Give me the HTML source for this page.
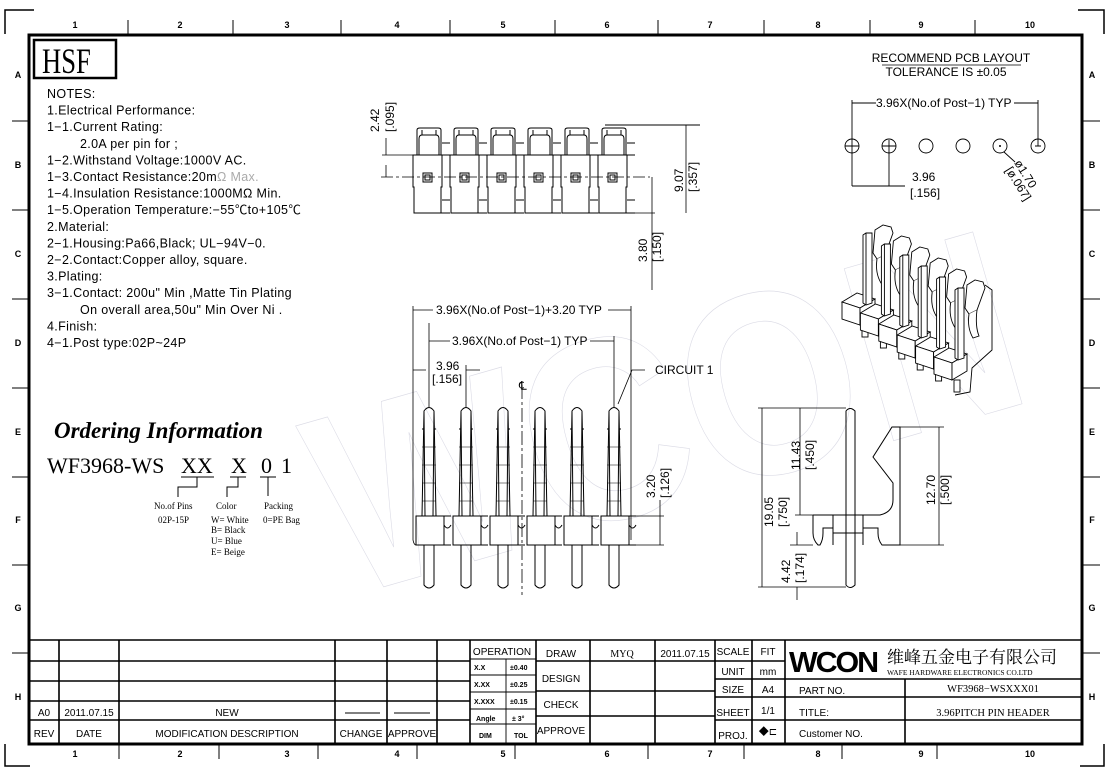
<!DOCTYPE html>
<html><head><meta charset="utf-8"><style>
html,body{margin:0;padding:0;background:#fff}
svg{display:block}
text{font-family:"Liberation Sans","Noto Sans CJK SC",sans-serif;fill:#000}
.s{font-family:"Liberation Serif","Noto Serif CJK SC",serif}
</style></head><body>
<svg width="1112" height="778" viewBox="0 0 1112 778" xmlns="http://www.w3.org/2000/svg">
<defs>
<g id="tu" fill="none" stroke="#000" stroke-width="1">
  <path d="M4,30 V5 Q4,3 7,3 H25 Q28,3 28,5 V30"/>
  <path d="M6,30 V14 Q6,10 9,10 H23 Q26,10 26,14 V30"/>
  <path d="M9,10 L9,5 M23,10 L23,5"/>
  <path d="M0,30 H29 V62 H28 V88 H1 V62 H0 Z"/>
  <rect x="10" y="48" width="9" height="9"/><rect x="12" y="50" width="5" height="5"/>
  <path d="M29,18 H37 M29,30 H37 M29,75 H37 M28,88 H37"/>
</g>
<g id="fp" fill="none" stroke="#000" stroke-width="1">
  <path d="M-5,4 Q0,-3 5,4 L7,109 H-7 Z"/>
  <path d="M-5,4 L-4,109 M5,4 L4,109 M-7,22 H-5 M5,22 H7"/>
  <path d="M-7,40 H7 M-7,58 H7 M-7,76 H7 M-7,94 H7" stroke-width="0.6"/>
  <rect x="-13" y="109" width="28" height="29"/>
  <path d="M15,109 H22 M15,138 H22 M15,118 Q18.5,124 22,118"/>
  <path d="M-5,138 V178 Q0,184 5,178 V138"/>
</g>
<g id="iso" fill="#fff" stroke="#000" stroke-width="0.9">
  <path d="M12,-3 L20,-8 L28,-6 L30,0 L22,22 L14,26 L10,20 Z"/>
  <path d="M14,26 Q12,40 18,50 L24,48 Q20,38 22,22"/>
  <path d="M-21,69 L-6,60 L12,66 L-3,75 Z"/>
  <path d="M-21,69 V86 L-3,92 V75 Z"/>
  <path d="M-3,75 L12,66 V83 L-3,92 Z"/>
  <rect x="-1" y="92" width="6" height="12"/>
  <path d="M0,2 L3,0 L9,0 L9,70 L3,72 L0,70 Z"/><path d="M3,0 V72"/>
</g>
</defs>

<g fill="none" stroke="#000" stroke-width="1.5">
<path d="M5,34 V10 H34"/><path d="M1078,10 H1104 V34"/><path d="M5,744 V766 H30"/><path d="M1080,766 H1104 V744"/>
</g>
<rect x="29" y="35" width="1053" height="709" fill="none" stroke="#000" stroke-width="3"/>
<g stroke="#000" stroke-width="1">
<path d="M128,20 V35 M233,20 V35 M341,20 V35 M450,20 V35 M555,20 V35 M658,20 V35 M764,20 V35 M870,20 V35 M975,20 V35"/>
<path d="M119,744 V759 M219,744 V759 M318,744 V759 M417,744 V759 M515,744 V759 M648,744 V759 M744,744 V759 M842,744 V759 M937,744 V759"/>
<path d="M12,121 H29 M12,210 H29 M12,299 H29 M12,388 H29 M12,477 H29 M12,565 H29 M12,653 H29"/>
<path d="M1082,121 H1100 M1082,210 H1100 M1082,299 H1100 M1082,388 H1100 M1082,477 H1100 M1082,565 H1100 M1082,653 H1100"/>
</g>
<g font-size="9" font-weight="bold" text-anchor="middle">
<text x="75" y="28">1</text><text x="180" y="28">2</text><text x="287" y="28">3</text><text x="397" y="28">4</text><text x="503" y="28">5</text><text x="607" y="28">6</text><text x="710" y="28">7</text><text x="818" y="28">8</text><text x="921" y="28">9</text><text x="1030" y="28">10</text>
<text x="75" y="757">1</text><text x="180" y="757">2</text><text x="287" y="757">3</text><text x="397" y="757">4</text><text x="503" y="757">5</text><text x="607" y="757">6</text><text x="710" y="757">7</text><text x="818" y="757">8</text><text x="921" y="757">9</text><text x="1030" y="757">10</text>
<text x="18" y="78">A</text><text x="18" y="168">B</text><text x="18" y="257">C</text><text x="18" y="346">D</text><text x="18" y="435">E</text><text x="18" y="523">F</text><text x="18" y="611">G</text><text x="18" y="700">H</text>
<text x="1092" y="78">A</text><text x="1092" y="168">B</text><text x="1092" y="257">C</text><text x="1092" y="346">D</text><text x="1092" y="435">E</text><text x="1092" y="523">F</text><text x="1092" y="611">G</text><text x="1092" y="700">H</text>
</g>

<!-- watermark -->
<text x="300" y="520" font-size="260" font-weight="bold" style="fill:none;stroke:#dcdce6;stroke-width:0.7" transform="rotate(-16 600 400)" textLength="720" lengthAdjust="spacingAndGlyphs">WCON</text>

<!-- HSF -->
<rect x="34" y="40" width="82" height="38" fill="none" stroke="#000" stroke-width="2.5"/>
<text x="42" y="73" class="s" font-size="36" transform="translate(42 0) scale(0.74 1) translate(-42 0)">HSF</text>

<g font-size="12.5" letter-spacing="0.35">
<text x="47" y="98">NOTES:</text>
<text x="47" y="114.6">1.Electrical  Performance:</text>
<text x="47" y="131.2">1−1.Current  Rating:</text>
<text x="80" y="147.8">2.0A  per  pin  for  ;</text>
<text x="47" y="164.4">1−2.Withstand  Voltage:1000V  AC.</text>
<text x="47" y="181">1−3.Contact  Resistance:20m<tspan style="fill:#aaa">Ω  Max.</tspan></text>
<text x="47" y="197.6">1−4.Insulation  Resistance:1000MΩ  Min.</text>
<text x="47" y="214.2">1−5.Operation  Temperature:−55℃to+105℃</text>
<text x="47" y="230.8">2.Material:</text>
<text x="47" y="247.4">2−1.Housing:Pa66,Black;  UL−94V−0.</text>
<text x="47" y="264">2−2.Contact:Copper  alloy,  square.</text>
<text x="47" y="280.6">3.Plating:</text>
<text x="47" y="297.2">3−1.Contact:  200u"  Min  ,Matte  Tin  Plating</text>
<text x="80" y="313.8">On  overall  area,50u"  Min  Over  Ni  .</text>
<text x="47" y="330.4">4.Finish:</text>
<text x="47" y="347">4−1.Post  type:02P~24P</text>
</g>

<text x="54" y="438" class="s" font-size="23" font-weight="bold" font-style="italic">Ordering Information</text>
<g font-size="22">
<text x="47" y="473" class="s">WF3968-WS</text>
<text x="181" y="473" class="s">XX</text>
<text x="231" y="473" class="s">X</text>
<text x="261" y="473" class="s">0</text>
<text x="281" y="473" class="s">1</text>
</g>
<g fill="none" stroke="#000" stroke-width="1">
<path d="M181,477 H214 M197,477 V487 H178 V497"/>
<path d="M230,477 H246 M238,477 V487 H227 V497"/>
<path d="M260,477 H276 M268,477 V496"/>
</g>
<g font-size="9">
<text x="154" y="509" class="s">No.of Pins</text><text x="158" y="523" class="s">02P-15P</text>
<text x="216" y="509" class="s">Color</text>
<text x="211" y="523" class="s">W= White</text><text x="211" y="533" class="s">B= Black</text><text x="211" y="544" class="s">U= Blue</text><text x="211" y="555" class="s">E= Beige</text>
<text x="264" y="509" class="s">Packing</text><text x="263" y="523" class="s">0=PE Bag</text>
</g>

<!-- top view -->
<g transform="translate(413,125)">
<use href="#tu" x="0"/><use href="#tu" x="37"/><use href="#tu" x="74"/><use href="#tu" x="111"/><use href="#tu" x="148"/><use href="#tu" x="185"/>
</g>
<path d="M605,125 H700" stroke="#000" fill="none"/>
<g fill="none" stroke="#000" stroke-width="0.8">
<path d="M381,177 H650" stroke-dasharray="12 3 3 3"/>
<path d="M382,155 H413 M386,138 V155 M386,177 V165"/>
<path d="M598,213 H655 M686,125 V213 M652,177 V290"/>
</g>
<g font-size="12">
<text transform="translate(379 132) rotate(-90)">2.42</text>
<text transform="translate(394 132) rotate(-90)">[.095]</text>
<text transform="translate(683 192) rotate(-90)">9.07</text>
<text transform="translate(697 192) rotate(-90)">[.357]</text>
<text transform="translate(647 262) rotate(-90)">3.80</text>
<text transform="translate(661 262) rotate(-90)">[.150]</text>
</g>

<!-- front view -->
<g transform="translate(429,407)">
<use href="#fp" x="0"/><use href="#fp" x="37"/><use href="#fp" x="74"/><use href="#fp" x="111"/><use href="#fp" x="148"/><use href="#fp" x="185"/>
</g>
<g fill="none" stroke="#000" stroke-width="0.8">
<path d="M413,306 V540 Q414,545 416,545 M631,306 V540"/>
<path d="M413,310 H433 M608,310 H631"/>
<path d="M429,323 V407 M614,336 V407 M429,341 H450 M590,341 H614"/>
<path d="M466,365 V407 M413,370 H426 M466,370 H480"/>
<path d="M522,385 V595" stroke-dasharray="14 3 3 3"/>
<path d="M645,370 H632 L618,404"/>
<path d="M631,516 H664 M631,545 H664 M660,500 V545"/>
</g>
<g font-size="12">
<text x="436" y="314">3.96X(No.of  Post−1)+3.20  TYP</text>
<text x="452" y="345">3.96X(No.of  Post−1)  TYP</text>
<text x="436" y="370">3.96</text><text x="432" y="383">[.156]</text>
<text x="519" y="390">℄</text>
<text x="655" y="374">CIRCUIT  1</text>
<text transform="translate(655 498) rotate(-90)">3.20</text>
<text transform="translate(669 498) rotate(-90)">[.126]</text>
</g>

<!-- iso view -->
<g transform="translate(863,233)">
<use href="#iso" x="0" y="0"/><use href="#iso" x="18.4" y="11"/><use href="#iso" x="36.8" y="22"/><use href="#iso" x="55.2" y="33"/><use href="#iso" x="73.6" y="44"/><use href="#iso" x="92" y="55"/>
</g>
<path d="M985,285 L992,290 V350 L972,368 L970,392 L955,395" fill="none" stroke="#000" stroke-width="0.9"/>

<!-- side view -->
<g fill="none" stroke="#000" stroke-width="1">
<path d="M846,411 Q850,406 855,411 V585 Q850,590 846,585 Z"/>
<path d="M813,515 H880 Q893,512 893,500 V483 L873,457 L892,427 H900 V545 H882 Q878,540 878,533 V528 H863 V545 M813,515 V533 Q813,540 818,545 H820 Q823,540 823,533 V528 H833 V545 M833,515 V545 M863,515 V545 M833,533 H863"/>
</g>
<g fill="none" stroke="#000" stroke-width="0.8">
<path d="M758,408 H846 M758,587 H846 M762,408 V587"/>
<path d="M800,408 V515 M795,515 H813"/>
<path d="M790,545 H813 M797,532 V545 M797,587 V600"/>
<path d="M900,427 H944 M900,545 H944 M939,427 V545"/>
</g>
<g font-size="12">
<text transform="translate(773 527) rotate(-90)">19.05</text>
<text transform="translate(787 527) rotate(-90)">[.750]</text>
<text transform="translate(800 470) rotate(-90)">11.43</text>
<text transform="translate(814 470) rotate(-90)">[.450]</text>
<text transform="translate(790 583) rotate(-90)">4.42</text>
<text transform="translate(804 583) rotate(-90)">[.174]</text>
<text transform="translate(935 505) rotate(-90)">12.70</text>
<text transform="translate(949 505) rotate(-90)">[.500]</text>
</g>

<!-- PCB layout -->
<g font-size="12" text-anchor="middle">
<text x="951" y="62">RECOMMEND  PCB  LAYOUT</text>
<text x="946" y="76">TOLERANCE  IS  ±0.05</text>
</g>
<path d="M882,65 H1021" stroke="#000" stroke-width="0.8"/>
<g fill="none" stroke="#000" stroke-width="0.9">
<circle cx="852" cy="146" r="7"/><circle cx="889" cy="146" r="7"/><circle cx="926" cy="146" r="7"/><circle cx="963" cy="146" r="7"/><circle cx="1000" cy="146" r="7"/><circle cx="1038" cy="146" r="7"/>
<path d="M852,100 V186 M845,146 H859 M889,140 V186 M882,146 H896 M1038,100 V146 M1035,146 H1041"/>
<path d="M852,103 H876 M1014,103 H1038 M852,186 H905"/>
<path d="M1004,152 L1015,162"/>
</g>
<circle cx="1000" cy="146" r="1" fill="#000"/>
<g font-size="12">
<text x="876" y="107">3.96X(No.of  Post−1)  TYP</text>
<text x="912" y="181">3.96</text><text x="910" y="197">[.156]</text>
<text transform="translate(1014 163) rotate(58)">ø1.70</text>
<text transform="translate(1005 170) rotate(58)">[ø.067]</text>
</g>

<!-- title block -->
<g fill="none" stroke="#000" stroke-width="1.6">
<path d="M29,640 H1082"/>
<path d="M29,661 H470 M29,681 H470 M29,701 H470 M29,720 H470"/>
<path d="M59,640 V744 M119,640 V744 M335,640 V744 M387,640 V744 M437,640 V744 M470,640 V744"/>
<path d="M536,640 V744 M590,640 V744 M655,640 V744 M715,640 V744 M752,640 V744 M785,640 V744"/>
<path d="M536,661 H715 M536,691 H715 M536,716 H715"/>
<path d="M715,661 H785 M715,679 H1082 M715,697 H1082 M715,720 H1082"/>
<path d="M905,679 V744"/>
</g>
<g fill="none" stroke="#000" stroke-width="0.9">
<path d="M470,659 H536 M470,675 H536 M470,692 H536 M470,709 H536 M470,724 H536 M506,659 V744"/>
<path d="M345,713 H380 M394,713 H430"/>
</g>
<g font-size="10" text-anchor="middle">
<text x="44" y="716">A0</text><text x="89" y="716">2011.07.15</text><text x="227" y="716">NEW</text>
<text x="44" y="737">REV</text><text x="89" y="737">DATE</text><text x="227" y="737">MODIFICATION  DESCRIPTION</text>
<text x="361" y="737">CHANGE</text><text x="412" y="737">APPROVE</text>
<text x="502" y="655">OPERATION</text>
<text x="561" y="657">DRAW</text><text x="561" y="682">DESIGN</text><text x="561" y="708">CHECK</text><text x="561" y="734">APPROVE</text>
<text x="622" y="657" class="s">MYQ</text><text x="685" y="657">2011.07.15</text>
<text x="733" y="655">SCALE</text><text x="768" y="655">FIT</text>
<text x="733" y="675">UNIT</text><text x="768" y="675">mm</text>
<text x="733" y="693">SIZE</text><text x="768" y="693">A4</text>
<text x="733" y="716">SHEET</text><text x="768" y="714">1/1</text>
<text x="733" y="739">PROJ.</text><text x="768" y="735">◆⊏</text>
<text x="993" y="692" class="s" font-size="10.5">WF3968−WSXXX01</text>
<text x="993" y="716" class="s" font-size="10.5">3.96PITCH  PIN  HEADER</text>
</g>
<g font-size="10">
<text x="799" y="694">PART  NO.</text><text x="799" y="716">TITLE:</text><text x="799" y="737">Customer  NO.</text>
</g>
<g font-size="7" font-weight="bold">
<text x="474" y="670">X.X</text><text x="510" y="670">±0.40</text>
<text x="474" y="687">X.XX</text><text x="510" y="687">±0.25</text>
<text x="474" y="704">X.XXX</text><text x="510" y="704">±0.15</text>
<text x="476" y="721">Angle</text><text x="512" y="721">±  3°</text>
<text x="479" y="738">DIM</text><text x="514" y="738">TOL</text>
</g>
<text x="789" y="672" font-size="29" font-weight="900" letter-spacing="-2" transform="translate(789 0) scale(1.05 1) translate(-789 0)">WCON</text>
<text x="887" y="663" font-size="17" style="font-family:'Noto Serif CJK SC','Noto Sans CJK SC',serif">维峰五金电子有限公司</text>
<text x="887" y="675" font-size="7.5" class="s">WAFE HARDWARE ELECTRONICS CO.LTD</text>
</svg>
</body></html>
